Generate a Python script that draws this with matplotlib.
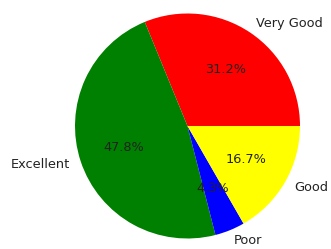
import matplotlib
matplotlib.use("Agg")
import matplotlib.pyplot as plt

labels = ["Very Good", "Excellent", "Poor", "Good"]
values = [31.2, 47.8, 4.3, 16.7]
colors = ["red", "green", "blue", "yellow"]

fig = plt.figure(figsize=(3.31, 2.49), dpi=100)
cx, cy, r = 187.5, 249 - 126, 112.5
ax = fig.add_axes([(cx - r) / 331, (cy - r) / 249, 2 * r / 331, 2 * r / 249])
ax.pie(values, labels=labels, colors=colors, autopct="%1.1f%%", startangle=0,
       textprops={"fontsize": 9.3, "color": "#222222"})
ax.set_xlim(-1, 1)
ax.set_ylim(-1, 1)
ax.set_aspect("auto")
fig.savefig("out.png", dpi=100)
